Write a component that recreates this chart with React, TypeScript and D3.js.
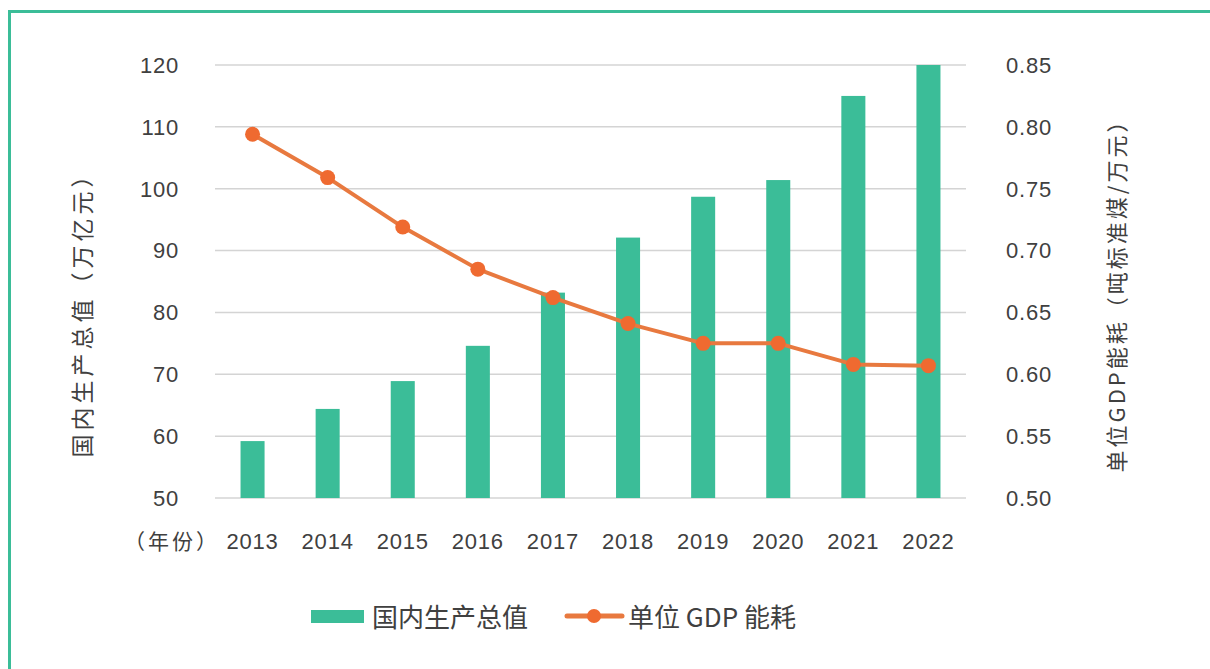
import React from "react";
import * as d3 from "d3";

const years = ["2013", "2014", "2015", "2016", "2017", "2018", "2019", "2020", "2021", "2022"];
const gdpValues = [59.2, 64.4, 68.9, 74.6, 83.2, 92.1, 98.7, 101.4, 115.0, 120.0];
const energyValues = [0.794, 0.759, 0.719, 0.685, 0.662, 0.641, 0.625, 0.625, 0.608, 0.607];
const leftTicks = [50, 60, 70, 80, 90, 100, 110, 120];
const rightTicks = [0.5, 0.55, 0.6, 0.65, 0.7, 0.75, 0.8, 0.85];

const W = 1210;
const H = 669;
const plot = { left: 215, right: 966, top: 65, bottom: 498 };
const FONT = "'Liberation Sans', 'Noto Sans CJK SC', sans-serif";
const CJK = "'Noto Sans CJK SC', 'Liberation Sans', sans-serif";
const TXT = "#404040";
const GREEN = "#3bbd98";
const ORANGE = "#e8793f";
const DOT = "#ef6a30";

export default function App() {
  const x = d3.scaleBand<string>().domain(years).range([plot.left, plot.right]).paddingInner(0.68).paddingOuter(0.34);
  const yL = d3.scaleLinear().domain([50, 120]).range([plot.bottom, plot.top]);
  const yR = d3.scaleLinear().domain([0.5, 0.85]).range([plot.bottom, plot.top]);
  const cx = (d: string) => (x(d) as number) + x.bandwidth() / 2;
  const line = d3
    .line<number>()
    .x((_, i) => cx(years[i]))
    .y((v) => yR(v));

  return (
    <svg width={W} height={H} style={{ position: "absolute", left: 0, top: 0 }}>
      <rect x={0} y={0} width={W} height={H} fill="#fff" />
      <line x1={9.5} y1={11} x2={9.5} y2={H} stroke={GREEN} strokeWidth={3} />
      <line x1={8} y1={11.5} x2={W} y2={11.5} stroke={GREEN} strokeWidth={3} />

      {leftTicks.map((t) => (
        <line key={"g" + t} x1={plot.left} x2={plot.right} y1={yL(t)} y2={yL(t)} stroke="#d4d4d4" strokeWidth={1.5} />
      ))}

      {leftTicks.map((t) => (
        <text key={"l" + t} x={179} y={yL(t)} dy="0.36em" textAnchor="end" fontFamily={FONT} fontSize={22} letterSpacing={0.8} fill={TXT}>
          {t}
        </text>
      ))}
      {rightTicks.map((t) => (
        <text key={"r" + t} x={1006} y={yR(t)} dy="0.36em" textAnchor="start" fontFamily={FONT} fontSize={22} letterSpacing={0.8} fill={TXT}>
          {t.toFixed(2)}
        </text>
      ))}

      {years.map((yr, i) => (
        <rect
          key={"b" + yr}
          x={x(yr) as number}
          y={yL(gdpValues[i])}
          width={x.bandwidth()}
          height={yL(50) - yL(gdpValues[i])}
          fill={GREEN}
        />
      ))}

      <path d={line(energyValues) || ""} fill="none" stroke={ORANGE} strokeWidth={4} strokeLinejoin="round" />
      {energyValues.map((v, i) => (
        <circle key={"c" + i} cx={cx(years[i])} cy={yR(v)} r={7.5} fill={DOT} />
      ))}

      {years.map((yr) => (
        <text key={"x" + yr} x={cx(yr)} y={541} dy="0.36em" textAnchor="middle" fontFamily={FONT} fontSize={22} letterSpacing={0.8} fill={TXT}>
          {yr}
        </text>
      ))}
      <text x={172} y={541} dy="0.36em" textAnchor="middle" fontFamily={CJK} fontSize={21} letterSpacing={3} fill={TXT}>
        （年份）
      </text>

      <text
        transform={`translate(83,309) rotate(-90)`}
        textAnchor="middle"
        dy="0.36em"
        fontFamily={CJK}
        fontSize={23}
        letterSpacing={4}
        fill={TXT}
      >
        国内生产总值（万亿元）
      </text>
      <text
        transform={`translate(1117,290) rotate(-90)`}
        textAnchor="middle"
        dy="0.36em"
        fontFamily={CJK}
        fontSize={22}
        letterSpacing={3}
        fill={TXT}
      >
        单位GDP能耗（吨标准煤/万元）
      </text>

      <rect x={311} y={610} width={53} height={13} fill={GREEN} />
      <text x={372} y={618} dy="0.36em" fontFamily={CJK} fontSize={26} fill={TXT}>
        国内生产总值
      </text>
      <line x1={567} x2={622} y1={616} y2={616} stroke={ORANGE} strokeWidth={5} strokeLinecap="round" />
      <circle cx={594} cy={616} r={7} fill={DOT} />
      <text x={628} y={618} dy="0.36em" fontFamily={CJK} fontSize={26} fill={TXT}>
        单位 GDP 能耗
      </text>
    </svg>
  );
}
